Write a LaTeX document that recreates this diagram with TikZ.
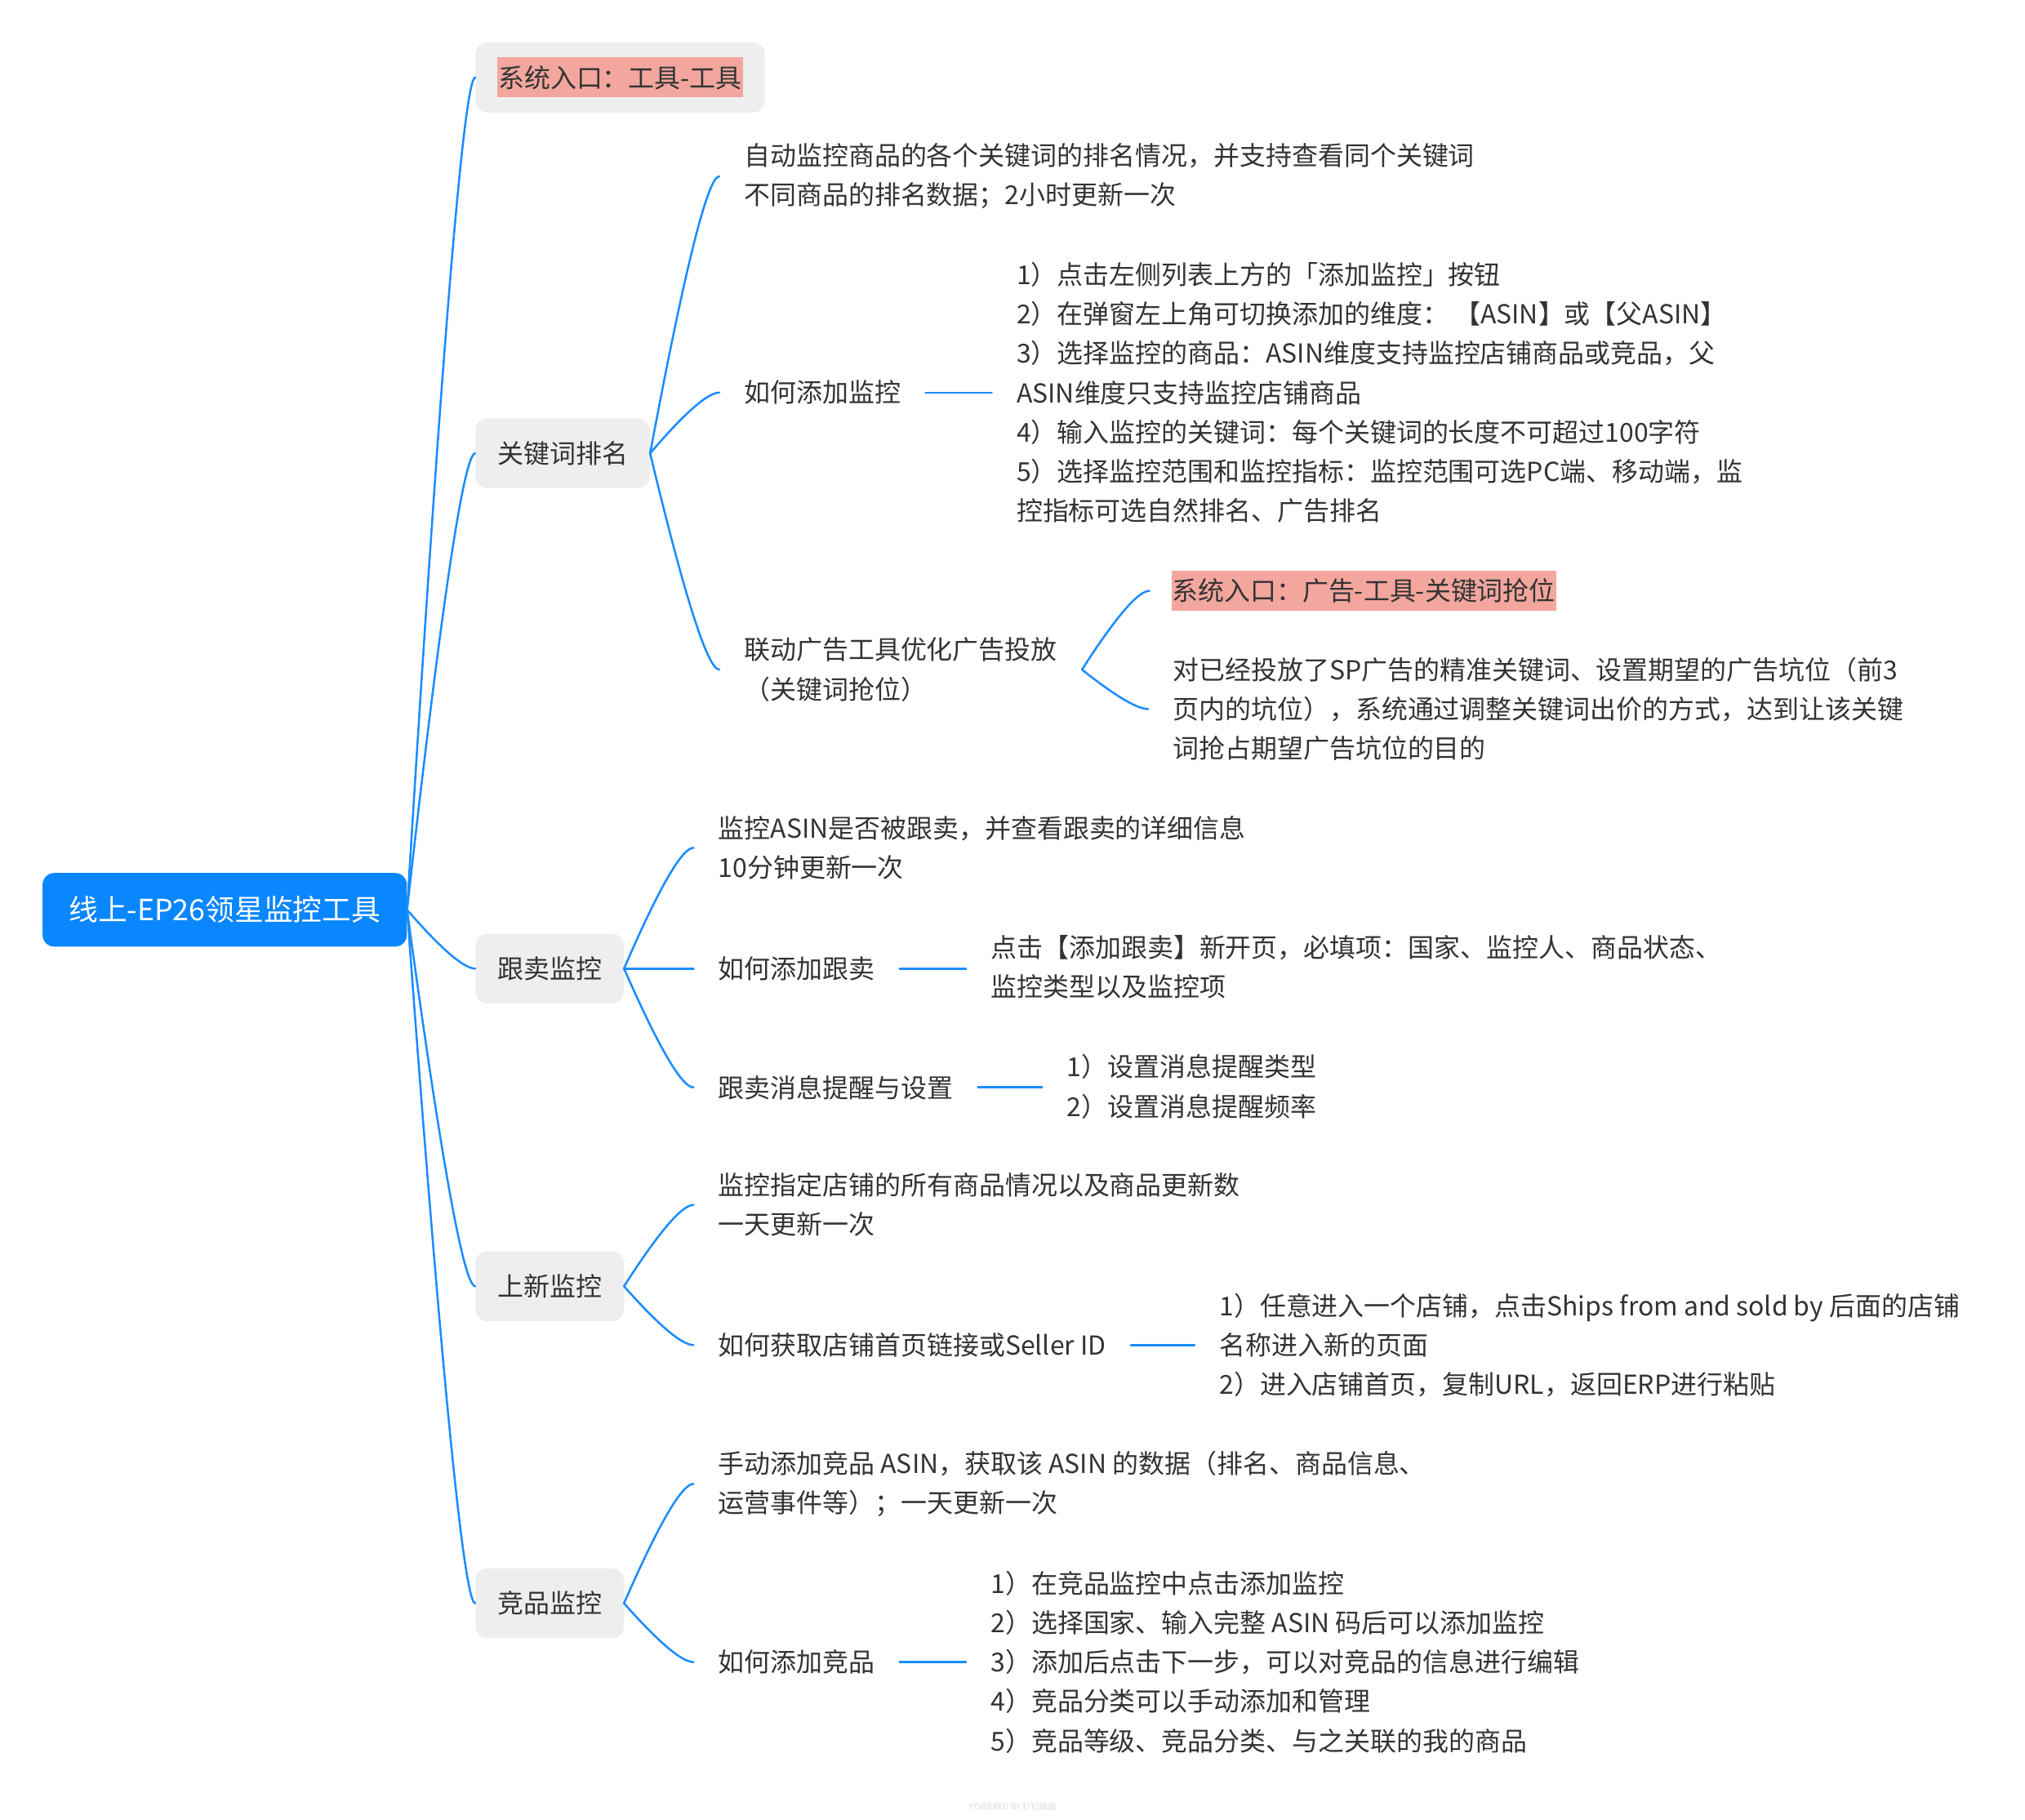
\documentclass[tikz,border=0pt]{standalone}
\usepackage{fontspec}
\setmainfont{Noto Sans CJK SC}
\usetikzlibrary{calc}
\definecolor{lineblue}{HTML}{1A8CFF}
\definecolor{rootblue}{HTML}{0A86FF}
\definecolor{boxgray}{HTML}{EEEEEE}
\definecolor{hlpink}{HTML}{F2A69E}
\definecolor{txt}{HTML}{333333}
\begin{document}
\begin{tikzpicture}[x=1pt,y=-1pt,
  every node/.style={font=\fontsize{20.2pt}{30.5pt}\selectfont, text=txt},
  rootnode/.style={fill=rootblue, rounded corners=9pt, minimum width=282pt, minimum height=57pt, text=white, font=\fontsize{22.6pt}{28pt}\selectfont, inner sep=0pt},
  topic/.style={fill=boxgray, rounded corners=9pt, minimum height=54pt, inner xsep=17pt, inner ysep=0pt, anchor=west},
  leaf/.style={inner xsep=19pt, inner ysep=0pt, anchor=west, align=left},
  hlbox/.style={fill=hlpink, inner xsep=0.5pt, inner ysep=0pt, minimum height=31pt},
  conn/.style={draw=lineblue, line width=1.6pt, line cap=round},
  curveto/.style={to path={let \p1=(\tikztostart), \p2=(\tikztotarget) in
     .. controls ({\x1+0.5*(\x2-\x1)},{\y1+0.6667*(\y2-\y1)}) and ({\x2-0.1667*(\x2-\x1)},\y2) .. (\tikztotarget)}}
]
\useasboundingbox (0,0) rectangle (1568,1408.7);

% root
\node[rootnode] (root) at (174,704.5) {线上-EP26领星监控工具};

% level 1
\node[topic, minimum width=224pt] (e1) at (368,60) {};
\node[hlbox] (e1t) at (e1.center) {系统入口：工具-工具};
\node[topic] (kw) at (368,351) {关键词排名};
\node[topic] (gm) at (368,750) {跟卖监控};
\node[topic] (sx) at (368,996) {上新监控};
\node[topic] (jp) at (368,1241.5) {竞品监控};

% 关键词排名
\node[leaf] (kw1) at (557,136.5) {自动监控商品的各个关键词的排名情况，并支持查看同个关键词\\不同商品的排名数据；2小时更新一次};
\node[leaf] (kw2) at (557,304) {如何添加监控};
\node[leaf] (kw2d) at (768,304) {1）点击左侧列表上方的「添加监控」按钮\\2）在弹窗左上角可切换添加的维度： 【ASIN】或【父ASIN】\\3）选择监控的商品：ASIN维度支持监控店铺商品或竞品，父\\ASIN维度只支持监控店铺商品\\4）输入监控的关键词：每个关键词的长度不可超过100字符\\5）选择监控范围和监控指标：监控范围可选PC端、移动端，监\\控指标可选自然排名、广告排名};
\node[leaf] (kw3) at (557,518.5) {联动广告工具优化广告投放\\（关键词抢位）};
\node[hlbox, outer xsep=17pt, anchor=west] (kw3a) at (890,457.5) {系统入口：广告-工具-关键词抢位};
\node[leaf] (kw3b) at (889,549) {对已经投放了SP广告的精准关键词、设置期望的广告坑位（前3\\页内的坑位），系统通过调整关键词出价的方式，达到让该关键\\词抢占期望广告坑位的目的};

% 跟卖监控
\node[leaf] (gm1) at (537,656.5) {监控ASIN是否被跟卖，并查看跟卖的详细信息\\10分钟更新一次};
\node[leaf] (gm2) at (537,750) {如何添加跟卖};
\node[leaf] (gm2d) at (748,749) {点击【添加跟卖】新开页，必填项：国家、监控人、商品状态、\\监控类型以及监控项};
\node[leaf] (gm3) at (537,842) {跟卖消息提醒与设置};
\node[leaf] (gm3d) at (807,841.5) {1）设置消息提醒类型\\2）设置消息提醒频率};

% 上新监控
\node[leaf] (sx1) at (537,933) {监控指定店铺的所有商品情况以及商品更新数\\一天更新一次};
\node[leaf] (sx2) at (537,1041.5) {如何获取店铺首页链接或Seller ID};
\node[leaf] (sx2d) at (925,1041.5) {1）任意进入一个店铺，点击Ships from and sold by 后面的店铺\\名称进入新的页面\\2）进入店铺首页，复制URL，返回ERP进行粘贴};

% 竞品监控
\node[leaf] (jp1) at (537,1149) {手动添加竞品 ASIN，获取该 ASIN 的数据（排名、商品信息、\\运营事件等）；一天更新一次};
\node[leaf] (jp2) at (537,1287) {如何添加竞品};
\node[leaf] (jp2d) at (748,1287) {1）在竞品监控中点击添加监控\\2）选择国家、输入完整 ASIN 码后可以添加监控\\3）添加后点击下一步，可以对竞品的信息进行编辑\\4）竞品分类可以手动添加和管理\\5）竞品等级、竞品分类、与之关联的我的商品};

% footer
\node[font=\fontsize{6.5pt}{8pt}\selectfont, text=black!14] (footer) at (784,1399) {POWERED BY 钉钉脑图};

% connectors
\foreach \t in {e1,kw,gm,sx,jp} \draw[conn] (root.east) to[curveto] (\t.west);
\foreach \t in {kw1,kw2,kw3} \draw[conn] (kw.east) to[curveto] (\t.west);
\foreach \t in {kw3a,kw3b} \draw[conn] (kw3.east) to[curveto] (\t.west);
\foreach \t in {gm1,gm2,gm3} \draw[conn] (gm.east) to[curveto] (\t.west);
\foreach \t in {sx1,sx2} \draw[conn] (sx.east) to[curveto] (\t.west);
\foreach \t in {jp1,jp2} \draw[conn] (jp.east) to[curveto] (\t.west);
\draw[conn] (kw2.east) -- (kw2.east -| kw2d.west);
\draw[conn] (gm2.east) -- (gm2.east -| gm2d.west);
\draw[conn] (gm3.east) -- (gm3.east -| gm3d.west);
\draw[conn] (sx2.east) -- (sx2.east -| sx2d.west);
\draw[conn] (jp2.east) -- (jp2.east -| jp2d.west);
\end{tikzpicture}
\end{document}
